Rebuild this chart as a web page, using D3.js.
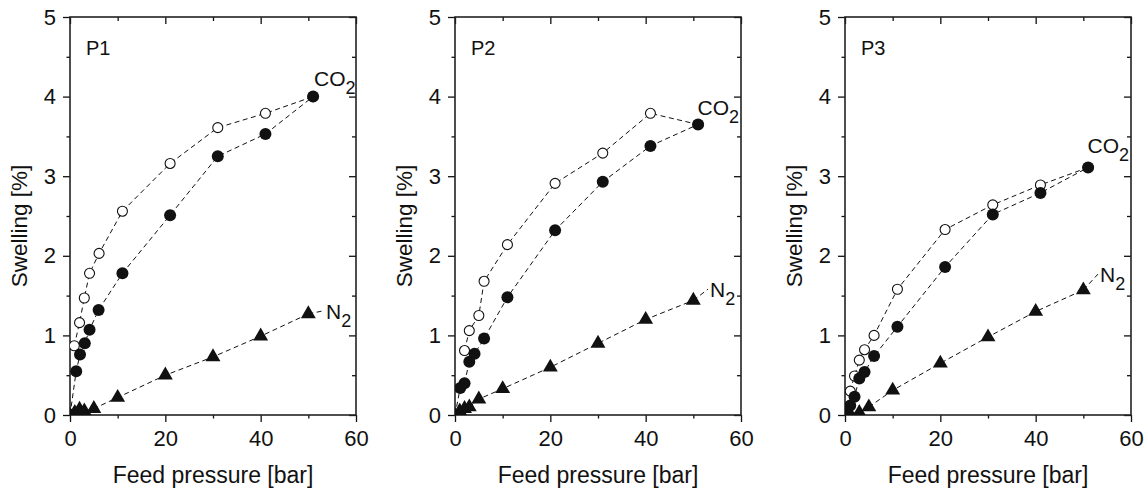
<!DOCTYPE html>
<html>
<head>
<meta charset="utf-8">
<script src="https://cdn.jsdelivr.net/npm/d3@7"></script>
<style>
  body { margin: 0; background: #fff; }
  svg { display: block; }
  text { font-family: "Liberation Sans", Arial, sans-serif; fill: #111; }
</style>
</head>
<body>
<svg id="chart" width="1148" height="490"></svg>
<script>
// ---- data ----
const panelNames = ["P1", "P2", "P3"];

// CO2, filled circles: [pressure bar, swelling %]
const co2FilledP1 = [[0, 0], [1.3, 0.55], [2.1, 0.76], [3.1, 0.9], [4.1, 1.07], [6, 1.32], [11, 1.78], [21, 2.51], [31, 3.25], [41, 3.53], [51, 4.0]];
const co2FilledP2 = [[0, 0], [1.1, 0.34], [2, 0.4], [3, 0.67], [4.1, 0.77], [6.1, 0.96], [11, 1.48], [21, 2.32], [31, 2.93], [41, 3.38], [51, 3.65]];
const co2FilledP3 = [[0, 0], [1.1, 0.12], [2, 0.23], [3, 0.46], [4.1, 0.54], [6.1, 0.74], [11, 1.11], [21, 1.86], [31, 2.52], [41, 2.79], [51, 3.11]];

// CO2, open circles
const co2OpenP1 = [[0.9, 0.87], [2, 1.16], [3, 1.47], [4.1, 1.78], [6.1, 2.03], [11, 2.56], [21, 3.16], [31, 3.61], [41, 3.79], [51, 4.0]];
const co2OpenP2 = [[2, 0.81], [3, 1.06], [5, 1.25], [6.1, 1.68], [11, 2.14], [21, 2.91], [31, 3.29], [41, 3.79], [51, 3.65]];
const co2OpenP3 = [[1.1, 0.3], [2, 0.49], [3, 0.69], [4.1, 0.82], [6.1, 1.0], [11, 1.58], [21, 2.33], [31, 2.64], [41, 2.89], [51, 3.11]];

// N2, filled triangles
const n2P1 = [[0, 0], [1, 0.03], [2, 0.07], [3, 0.05], [5, 0.08], [10, 0.22], [20, 0.5], [30, 0.73], [40, 0.99], [50, 1.27]];
const n2P2 = [[0, 0], [1, 0.05], [2, 0.08], [3, 0.1], [5, 0.2], [10, 0.33], [20, 0.6], [30, 0.9], [40, 1.2], [50, 1.44]];
const n2P3 = [[0, 0], [1, 0.02], [3, 0.03], [5, 0.1], [10, 0.31], [20, 0.65], [30, 0.98], [40, 1.3], [50, 1.57]];

// axis ticks
const xMajorTicks = [0, 20, 40, 60];
const xMinorTicks = [10, 30, 50];
const yMajorTicks = [0, 1, 2, 3, 4, 5];
const yMinorTicks = [0.5, 1.5, 2.5, 3.5, 4.5];

// label anchors in data units
const co2LabelAt = [[51.2, 4.13], [50.9, 3.77], [50.9, 3.29]];
const n2LabelAt = [[53.7, 1.21], [53.5, 1.48], [53.5, 1.67]];

const panels = panelNames.map((name, i) => ({
  name,
  filled: [co2FilledP1, co2FilledP2, co2FilledP3][i],
  open: [co2OpenP1, co2OpenP2, co2OpenP3][i],
  n2: [n2P1, n2P2, n2P3][i],
  co2Label: co2LabelAt[i],
  n2Label: n2LabelAt[i]
}));

// ---- layout ----
const panelLeft = [70, 455, 845];
const marginTop = 17;
const width = 286;
const height = 398;
const ink = "#111";

const svg = d3.select("#chart");

const x = d3.scaleLinear().domain([0, 60]).range([0, width]);
const y = d3.scaleLinear().domain([0, 5]).range([height, 0]);

const line = d3.line().x((d) => x(d[0])).y((d) => y(d[1]));
const triangle = d3.symbol().type(d3.symbolTriangle).size(96);

function styleAxis(g) {
  g.attr("font-family", null).attr("font-size", null);
  g.select(".domain").remove();
  g.selectAll(".tick line").attr("stroke", ink).attr("stroke-width", 1.3);
  g.selectAll(".tick text").style("font-size", "22px").attr("fill", ink);
}

panels.forEach((p, i) => {
  const g = svg.append("g").attr("transform", `translate(${panelLeft[i]},${marginTop})`);

  g.append("clipPath")
    .attr("id", "clip" + i)
    .append("rect")
    .attr("width", width)
    .attr("height", height);

  // ticks: out on left/bottom, in on top/right
  g.append("g").attr("transform", `translate(0,${height})`)
    .call(d3.axisBottom(x).tickValues(xMajorTicks).tickSize(7).tickPadding(8.5).tickFormat(d3.format("d")))
    .call(styleAxis);
  g.append("g").attr("transform", `translate(0,${height})`)
    .call(d3.axisBottom(x).tickValues(xMinorTicks).tickSize(3.5).tickFormat(""))
    .call(styleAxis);
  g.append("g")
    .call(d3.axisTop(x).tickValues(xMajorTicks).tickSize(-7).tickFormat(""))
    .call(styleAxis);
  g.append("g")
    .call(d3.axisTop(x).tickValues(xMinorTicks).tickSize(-4).tickFormat(""))
    .call(styleAxis);

  g.append("g")
    .call(d3.axisLeft(y).tickValues(yMajorTicks).tickSize(7).tickPadding(7).tickFormat(d3.format("d")))
    .call(styleAxis);
  g.append("g")
    .call(d3.axisLeft(y).tickValues(yMinorTicks).tickSize(3.5).tickFormat(""))
    .call(styleAxis);
  g.append("g").attr("transform", `translate(${width},0)`)
    .call(d3.axisRight(y).tickValues(yMajorTicks).tickSize(-7).tickFormat(""))
    .call(styleAxis);
  g.append("g").attr("transform", `translate(${width},0)`)
    .call(d3.axisRight(y).tickValues(yMinorTicks).tickSize(-4).tickFormat(""))
    .call(styleAxis);

  // frame
  g.append("rect")
    .attr("width", width)
    .attr("height", height)
    .attr("fill", "none")
    .attr("stroke", "#222")
    .attr("stroke-width", 1.6);

  // axis titles
  g.append("text")
    .attr("x", width / 2)
    .attr("y", 483 - marginTop)
    .attr("text-anchor", "middle")
    .style("font-size", "23px")
    .text("Feed pressure [bar]");
  g.append("text")
    .attr("transform", `translate(-43,${226 - marginTop}) rotate(-90)`)
    .attr("text-anchor", "middle")
    .style("font-size", "22.5px")
    .text("Swelling [%]");

  // panel name
  g.append("text")
    .attr("x", 16)
    .attr("y", 55 - marginTop)
    .style("font-size", "20px")
    .text(p.name);

  const plot = g.append("g").attr("clip-path", `url(#clip${i})`);

  // lines
  [p.open, p.filled, p.n2].forEach((s) => {
    plot.append("path")
      .datum(s)
      .attr("fill", "none")
      .attr("stroke", ink)
      .attr("stroke-width", 1)
      .attr("stroke-dasharray", "5,3.5")
      .attr("d", line);
  });

  // N2 leader dash toward label
  const last = p.n2[p.n2.length - 1];
  g.append("line")
    .attr("x1", x(last[0]))
    .attr("y1", y(last[1]))
    .attr("x2", x(p.n2Label[0]) - 2)
    .attr("y2", y(p.n2Label[1]) - 8)
    .attr("stroke", ink)
    .attr("stroke-width", 1)
    .attr("stroke-dasharray", "5,3.5");

  // markers
  plot.selectAll(".open")
    .data(p.open)
    .join("circle")
    .attr("cx", (d) => x(d[0]))
    .attr("cy", (d) => y(d[1]))
    .attr("r", 5)
    .attr("fill", "#fff")
    .attr("stroke", ink)
    .attr("stroke-width", 1.1);

  plot.selectAll(".filled")
    .data(p.filled)
    .join("circle")
    .attr("cx", (d) => x(d[0]))
    .attr("cy", (d) => y(d[1]))
    .attr("r", 6)
    .attr("fill", ink);

  plot.selectAll(".tri")
    .data(p.n2)
    .join("path")
    .attr("transform", (d) => `translate(${x(d[0])},${y(d[1])})`)
    .attr("d", triangle)
    .attr("fill", ink);

  // gas labels
  const co2 = g.append("text")
    .attr("x", x(p.co2Label[0]))
    .attr("y", y(p.co2Label[1]))
    .style("font-size", "21px")
    .text("CO");
  co2.append("tspan").attr("dy", 8).style("font-size", "18px").text("2");

  const n2 = g.append("text")
    .attr("x", x(p.n2Label[0]))
    .attr("y", y(p.n2Label[1]))
    .style("font-size", "21px")
    .text("N");
  n2.append("tspan").attr("dy", 8).style("font-size", "18px").text("2");
});
</script>
</body>
</html>
